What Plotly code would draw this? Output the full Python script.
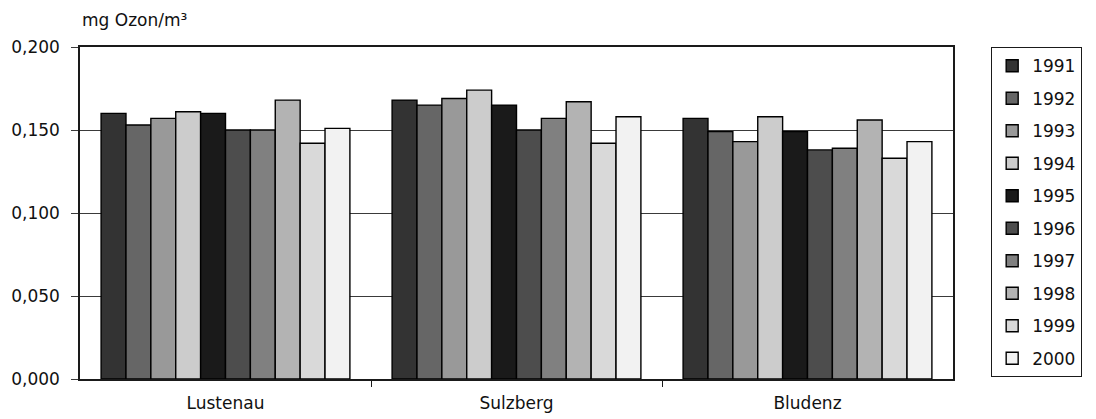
import plotly.graph_objects as go

# Ozone measurements per station and year (mg/m³)
stations = ["Lustenau", "Sulzberg", "Bludenz"]
years = ["1991", "1992", "1993", "1994", "1995", "1996", "1997", "1998", "1999", "2000"]

ozone_1991 = [0.160, 0.168, 0.157]
ozone_1992 = [0.153, 0.165, 0.149]
ozone_1993 = [0.157, 0.169, 0.143]
ozone_1994 = [0.161, 0.174, 0.158]
ozone_1995 = [0.160, 0.165, 0.149]
ozone_1996 = [0.150, 0.150, 0.138]
ozone_1997 = [0.150, 0.157, 0.139]
ozone_1998 = [0.168, 0.167, 0.156]
ozone_1999 = [0.142, 0.142, 0.133]
ozone_2000 = [0.151, 0.158, 0.143]

series = [ozone_1991, ozone_1992, ozone_1993, ozone_1994, ozone_1995,
          ozone_1996, ozone_1997, ozone_1998, ozone_1999, ozone_2000]

greys = ["#333333", "#666666", "#999999", "#cccccc", "#1a1a1a",
         "#4d4d4d", "#808080", "#b3b3b3", "#d9d9d9", "#f2f2f2"]

y_ticks = [0.0, 0.05, 0.1, 0.15, 0.2]

FONT = "DejaVu Sans, Liberation Sans, sans-serif"

fig = go.Figure()
for year, values, colour in zip(years, series, greys):
    fig.add_trace(go.Bar(
        name=year,
        x=stations,
        y=values,
        legendgroup=year,
        marker=dict(color=colour, line=dict(color="#000000", width=1.4)),
    ))

# helper axis carrying the tick marks between the station groups
fig.add_trace(go.Scatter(x=[0.5, 1.5], y=[None, None], xaxis="x2",
                         showlegend=False, hoverinfo="skip"))

fig.update_layout(
    width=1096,
    height=419,
    margin=dict(l=80, r=143, t=47, b=40),
    paper_bgcolor="white",
    plot_bgcolor="white",
    separators=",.",
    barmode="group",
    bargap=0.145,
    bargroupgap=0,
    font=dict(family=FONT, size=17, color="#111111"),
    xaxis=dict(
        type="category",
        range=[-0.5, 2.5],
        automargin=False,
        showgrid=False,
        showline=True,
        linecolor="#1a1a1a",
        linewidth=1.5,
        mirror=True,
        ticks="",
        ticklabelstandoff=8,
        tickfont=dict(size=17),
    ),
    xaxis2=dict(
        overlaying="x",
        anchor="y",
        side="bottom",
        range=[-0.5, 2.5],
        automargin=False,
        tickvals=[0.5, 1.5],
        ticks="outside",
        ticklen=7,
        tickwidth=1.2,
        tickcolor="#1a1a1a",
        showticklabels=False,
        showgrid=False,
        showline=False,
        zeroline=False,
    ),
    yaxis=dict(
        range=[0, 0.2],
        automargin=False,
        tickvals=y_ticks,
        tickformat=".3f",
        showgrid=True,
        gridcolor="#3a3a3a",
        gridwidth=1.2,
        showline=True,
        linecolor="#1a1a1a",
        linewidth=1.5,
        mirror=True,
        ticks="outside",
        ticklen=7,
        tickcolor="#3a3a3a",
        tickwidth=1.2,
        ticklabelstandoff=8,
        zeroline=False,
        tickfont=dict(size=17),
    ),
    legend=dict(
        x=1.0435,
        xanchor="left",
        y=1,
        yanchor="top",
        maxheight=400,
        bgcolor="white",
        bordercolor="#1a1a1a",
        borderwidth=1.2,
        font=dict(size=17),
        traceorder="grouped",
        tracegroupgap=7.4,
    ),
    annotations=[dict(
        text="mg Ozon/m³",
        xref="paper", yref="paper",
        x=0, y=1,
        xanchor="left", yanchor="middle",
        yshift=27,
        showarrow=False,
        font=dict(size=17),
    )],
)

fig.write_html("out.html")
